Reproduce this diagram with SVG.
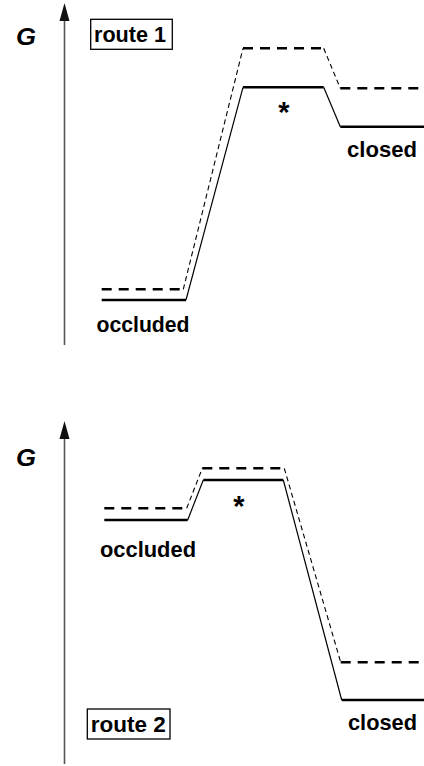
<svg xmlns="http://www.w3.org/2000/svg" width="424" height="766" viewBox="0 0 424 766">
<defs>
<style>
.lbl{font-family:"Liberation Sans",Arial,sans-serif;font-weight:bold;font-size:22px;fill:#000}
.g{font-family:"Liberation Sans",Arial,sans-serif;font-weight:bold;font-style:italic;font-size:24px;fill:#000}
.star{font-family:"Liberation Sans",Arial,sans-serif;font-weight:bold;font-size:29px;fill:#000}
.axis{stroke:#555;stroke-width:1.6;fill:none}
.head{fill:#111}
.lvl{stroke:#000;stroke-width:2.5;fill:none}
.lvld{stroke:#000;stroke-width:2.5;fill:none;stroke-dasharray:10 7}
.slope{stroke:#000;stroke-width:1.2;fill:none}
.sloped{stroke:#000;stroke-width:1.1;fill:none;stroke-dasharray:5 3.5}
.box{fill:#fff;stroke:#000;stroke-width:1.3}
</style>
</defs>
<rect width="424" height="766" fill="#fff"/>
<g id="connectors">
<line class="axis" x1="64.5" y1="345" x2="64.5" y2="20"/>
<path class="head" d="M59.5,21 L64.5,3 L69.5,21 Z"/>
<line class="axis" x1="64.5" y1="764" x2="64.5" y2="438"/>
<path class="head" d="M59.5,439 L64.5,421 L69.5,439 Z"/>
<polyline class="slope" points="186,300 243,87.3"/>
<polyline class="slope" points="323.7,87.3 340.3,126.7"/>
<polyline class="sloped" points="183.3,289.3 243,48.3"/>
<polyline class="sloped" points="323.7,48.3 340.3,88.3"/>
<polyline class="slope" points="187.7,520 203.3,480"/>
<polyline class="slope" points="283.3,480 341.7,700"/>
<polyline class="sloped" points="186.7,508.3 202.3,468.3"/>
<polyline class="sloped" points="284.3,468.3 340.7,662.3"/>
</g>
<g id="route1">
<text class="g" x="16" y="45" textLength="20" lengthAdjust="spacingAndGlyphs">G</text>
<g id="route1-label">
<rect class="box" x="90.7" y="19.3" width="81.6" height="30"/>
<text class="lbl" x="94" y="42" textLength="72" lengthAdjust="spacingAndGlyphs">route 1</text>
</g>
<g id="r1-occluded">
<line class="lvld" x1="101.7" y1="289.3" x2="183.3" y2="289.3"/>
<line class="lvl" x1="101.7" y1="300" x2="186" y2="300"/>
<text class="lbl" x="96.5" y="332" textLength="93" lengthAdjust="spacingAndGlyphs">occluded</text>
</g>
<g id="r1-ts">
<line class="lvld" x1="243" y1="48.3" x2="323.7" y2="48.3"/>
<line class="lvl" x1="243" y1="87.3" x2="323.7" y2="87.3"/>
<text class="star" x="284" y="122" text-anchor="middle">*</text>
</g>
<g id="r1-closed">
<line class="lvld" x1="340.3" y1="88.3" x2="424" y2="88.3"/>
<line class="lvl" x1="340.3" y1="126.7" x2="424" y2="126.7"/>
<text class="lbl" x="347" y="157" textLength="70" lengthAdjust="spacingAndGlyphs">closed</text>
</g>
</g>
<g id="route2">
<text class="g" x="16" y="466" textLength="20" lengthAdjust="spacingAndGlyphs">G</text>
<g id="route2-label">
<rect class="box" x="87.3" y="709" width="82.7" height="30"/>
<text class="lbl" x="90.7" y="732" textLength="75" lengthAdjust="spacingAndGlyphs">route 2</text>
</g>
<g id="r2-occluded">
<line class="lvld" x1="104.3" y1="508.3" x2="186.7" y2="508.3"/>
<line class="lvl" x1="104.3" y1="520" x2="187.7" y2="520"/>
<text class="lbl" x="100" y="557" textLength="96" lengthAdjust="spacingAndGlyphs">occluded</text>
</g>
<g id="r2-ts">
<line class="lvld" x1="202.3" y1="468.3" x2="284.3" y2="468.3"/>
<line class="lvl" x1="203.3" y1="480" x2="283.3" y2="480"/>
<text class="star" x="239" y="516" text-anchor="middle">*</text>
</g>
<g id="r2-closed">
<line class="lvld" x1="340.7" y1="662.3" x2="424" y2="662.3"/>
<line class="lvl" x1="341.7" y1="700" x2="424" y2="700"/>
<text class="lbl" x="348" y="730" textLength="69" lengthAdjust="spacingAndGlyphs">closed</text>
</g>
</g>
</svg>
